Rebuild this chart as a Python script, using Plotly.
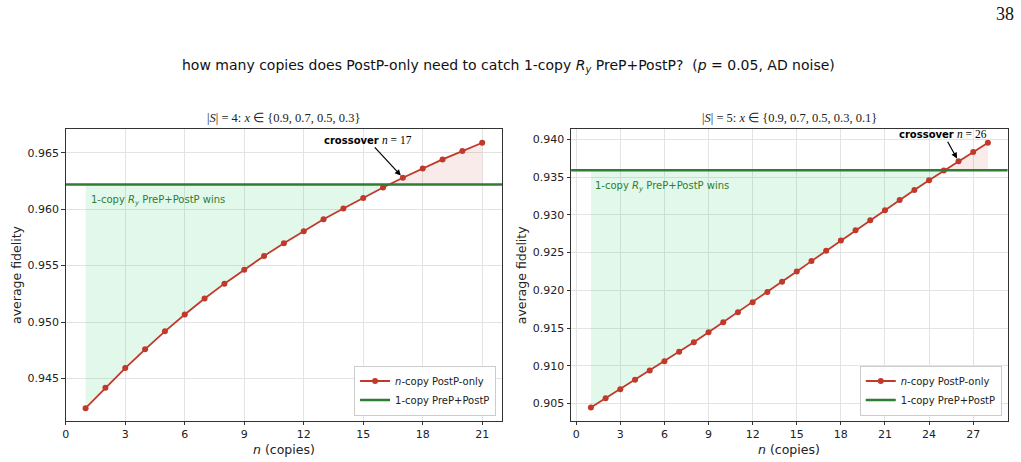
import plotly.graph_objects as go

# ---------------- data ----------------
n_left = list(range(1, 22))
fid_left = [0.94236, 0.94417, 0.94592, 0.94758, 0.94917, 0.95066, 0.95208, 0.95340,
            0.95464, 0.95586, 0.95698, 0.95805, 0.95911, 0.96006, 0.96100, 0.96192,
            0.96278, 0.96361, 0.96441, 0.96515, 0.96589]
base_left = 0.96219
cross_left = 17

n_right = list(range(1, 29))
fid_right = [0.90447, 0.90571, 0.90690, 0.90814, 0.90937, 0.91060, 0.91184, 0.91312,
             0.91444, 0.91577, 0.91709, 0.91841, 0.91977, 0.92112, 0.92249, 0.92386,
             0.92522, 0.92659, 0.92796, 0.92929, 0.93061, 0.93197, 0.93329, 0.93458,
             0.93585, 0.93709, 0.93832, 0.93955]
base_right = 0.93590
cross_right = 26

titles = ["|<i>S</i>| = 4: <i>x</i> ∈ {0.9, 0.7, 0.5, 0.3}",
          "|<i>S</i>| = 5: <i>x</i> ∈ {0.9, 0.7, 0.5, 0.3, 0.1}"]
xticks_left = list(range(0, 22, 3))
xticks_right = list(range(0, 28, 3))
yticks_left = [0.945, 0.950, 0.955, 0.960, 0.965]
yticks_right = [0.905, 0.910, 0.915, 0.920, 0.925, 0.930, 0.935, 0.940]

RED = "#c0392b"
GREEN = "#2e7d32"
GREEN_FILL = "rgba(46,204,113,0.14)"
RED_FILL = "rgba(192,57,43,0.10)"
FONT = "DejaVu Sans"
SERIF = "Liberation Serif"

W, H = 1021, 462
fig = go.Figure()


def px_x(p):
    return p / W


def px_y(p):
    return 1 - p / H


panels = [
    dict(n=n_left, f=fid_left, g=base_left, c=cross_left, xa="x", ya="y",
         dom=[62, 500], xt=xticks_left, yt=yticks_left, yr=[0.94127, 0.96708],
         title=titles[0], legend="legend", ann=(-35, -38), label_xy=(85, 200.7)),
    dict(n=n_right, f=fid_right, g=base_right, c=cross_right, xa="x2", ya="y2",
         dom=[569.3, 1007.7], xt=xticks_right, yt=yticks_right, yr=[0.90275, 0.94132],
         title=titles[1], legend="legend2", ann=(-15, -27), label_xy=(591, 186.7)),
]

annotations = []
for i, p in enumerate(panels):
    n, f, g = p["n"], p["f"], p["g"]
    span = n[-1] - n[0]
    xr = [n[0] - 0.05 * span, n[-1] + 0.05 * span]
    # crossing point by linear interpolation
    xc = None
    for k in range(len(n) - 1):
        if f[k] < g <= f[k + 1]:
            xc = n[k] + (g - f[k]) / (f[k + 1] - f[k]) * (n[k + 1] - n[k])
            break
    below = [(a, b) for a, b in zip(n, f) if b < g]
    above = [(a, b) for a, b in zip(n, f) if b >= g]
    gx = [a for a, _ in below] + [xc, n[0]]
    gy = [b for _, b in below] + [g, g]
    rx = [xc] + [a for a, _ in above] + [n[-1]]
    ry = [g] + [b for _, b in above] + [g]
    fig.add_trace(go.Scatter(x=gx, y=gy, fill="toself", fillcolor=GREEN_FILL, mode="none",
                             showlegend=False, hoverinfo="skip", xaxis=p["xa"], yaxis=p["ya"]))
    fig.add_trace(go.Scatter(x=rx, y=ry, fill="toself", fillcolor=RED_FILL, mode="none",
                             showlegend=False, hoverinfo="skip", xaxis=p["xa"], yaxis=p["ya"]))
    fig.add_trace(go.Scatter(x=n, y=f, mode="lines+markers", name="<i>n</i>-copy PostP-only",
                             line=dict(color=RED, width=1.8), marker=dict(color=RED, size=6),
                             xaxis=p["xa"], yaxis=p["ya"], legend=p["legend"]))
    fig.add_trace(go.Scatter(x=xr, y=[g, g], mode="lines", name="1-copy PreP+PostP",
                             line=dict(color=GREEN, width=2.6),
                             xaxis=p["xa"], yaxis=p["ya"], legend=p["legend"]))

    axsuffix = "" if i == 0 else "2"
    dom = [px_x(p["dom"][0]), px_x(p["dom"][1])]
    common = dict(showline=True, linecolor="#333333", linewidth=1.1, mirror=True,
                  showgrid=True, gridcolor="#e3e3e3", gridwidth=1, zeroline=False,
                  ticks="outside", ticklen=3.5, tickcolor="#333333",
                  tickfont=dict(family=FONT, size=11, color="#222"))
    fig.update_layout(**{
        "xaxis" + axsuffix: dict(domain=dom, range=xr, tickvals=p["xt"], anchor="y" + axsuffix, **common),
        "yaxis" + axsuffix: dict(domain=[px_y(420.5), px_y(129.3)], range=p["yr"], tickvals=p["yt"],
                                 tickformat=".3f", anchor="x" + axsuffix, **common),
        p["legend"]: dict(x=dom[1] - 6 / W, y=px_y(420.5) + 5 / H, xanchor="right", yanchor="bottom",
                          xref="paper", yref="paper",
                          bgcolor="rgba(255,255,255,0.9)", bordercolor="#cccccc", borderwidth=1,
                          font=dict(family=FONT, size=10, color="#222"), tracegroupgap=0),
    })
    cx = (p["dom"][0] + p["dom"][1]) / 2
    annotations += [
        dict(text=p["title"], x=px_x(cx), y=px_y(118), xref="paper", yref="paper",
             showarrow=False, font=dict(family=SERIF, size=12.5, color="#222"),
             xanchor="center", yanchor="middle"),
        dict(text="<i>n</i> (copies)", x=px_x(cx), y=px_y(449), xref="paper", yref="paper",
             showarrow=False, font=dict(family=FONT, size=12.5, color="#222"),
             xanchor="center", yanchor="middle"),
        dict(text="average fidelity", x=px_x(p["dom"][0] - 50), y=px_y(275), xref="paper",
             yref="paper", showarrow=False, textangle=-90,
             font=dict(family=FONT, size=12.5, color="#222"), xanchor="center", yanchor="middle"),
        dict(text="1-copy <i>R<sub>y</sub></i> PreP+PostP wins", x=px_x(p["label_xy"][0]),
             y=px_y(p["label_xy"][1]), xref="paper", yref="paper", showarrow=False,
             xanchor="left", yanchor="middle", font=dict(family=FONT, size=10, color=GREEN)),
        dict(text="<b>crossover</b> <span style=\"font-family:'Liberation Serif';font-size:11.5px\">"
                  "<i>n</i> = %d</span>" % p["c"],
             x=p["c"], y=f[n.index(p["c"])],
             xref=p["xa"], yref=p["ya"], ax=p["ann"][0], ay=p["ann"][1],
             showarrow=True, arrowhead=2, arrowsize=1, arrowwidth=1.2, arrowcolor="black",
             standoff=3, font=dict(family=FONT, size=10, color="black")),
    ]

annotations += [
    dict(text="how many copies does PostP-only need to catch 1-copy <i>R<sub>y</sub></i> PreP+PostP?  "
              "(<i>p</i> = 0.05, AD noise)",
         x=px_x(506), y=px_y(66), xref="paper", yref="paper", showarrow=False,
         font=dict(family=FONT, size=14, color="#111"), xanchor="center", yanchor="middle"),
    dict(text="38", x=px_x(1016), y=px_y(14), xref="paper", yref="paper", showarrow=False,
         xanchor="right", yanchor="middle", font=dict(family=SERIF, size=18, color="#111")),
]

fig.update_layout(width=W, height=H, margin=dict(l=0, r=0, t=0, b=0),
                  paper_bgcolor="white", plot_bgcolor="white", annotations=annotations,
                  font=dict(family=FONT))
fig.write_html("out.html")
